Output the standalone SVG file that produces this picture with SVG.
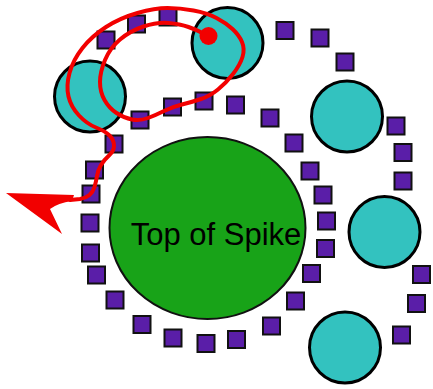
<svg xmlns="http://www.w3.org/2000/svg" width="433" height="389" viewBox="0 0 433 389">
<style>
.sq{fill:#5a1ea8;stroke:#111;stroke-width:2}
.cy{fill:#33c2bf;stroke:#000;stroke-width:3}
.sp{fill:#18a318;stroke:#111;stroke-width:2}
.lbl{font-family:"Liberation Sans",Arial,sans-serif;font-size:31px;fill:#000;text-anchor:middle}
.rd{fill:none;stroke:#f20000;stroke-width:4;stroke-linecap:round;stroke-linejoin:round}
</style>
<rect width="433" height="389" fill="#fff"/>
<g id="spike">
<ellipse class="sp" cx="207.5" cy="228" rx="98" ry="91"/>
<text class="lbl" x="216" y="245">Top of Spike</text>
</g>
<g id="circles">
<circle id="c1" class="cy" cx="90" cy="96.5" r="35.5"/>
<circle id="c2" class="cy" cx="227.5" cy="43" r="35.5"/>
<circle id="c3" class="cy" cx="347" cy="116.5" r="35.5"/>
<circle id="c4" class="cy" cx="384.5" cy="232" r="35.5"/>
<circle id="c5" class="cy" cx="345" cy="347.5" r="35.5"/>
</g>
<g id="squares">
<rect class="sq" x="97.5" y="31.5" width="17" height="17"/>
<rect class="sq" x="128" y="15.5" width="17" height="17"/>
<rect class="sq" x="159.5" y="8.5" width="17" height="17"/>
<rect class="sq" x="276.5" y="22" width="17" height="17"/>
<rect class="sq" x="311.5" y="29.5" width="17" height="17"/>
<rect class="sq" x="336.5" y="53.5" width="17" height="17"/>
<rect class="sq" x="387.5" y="117.5" width="17" height="17"/>
<rect class="sq" x="394.5" y="144" width="17" height="17"/>
<rect class="sq" x="394.5" y="172.5" width="17" height="17"/>
<rect class="sq" x="413" y="266" width="17" height="17"/>
<rect class="sq" x="408" y="295" width="17" height="17"/>
<rect class="sq" x="393" y="326.5" width="17" height="17"/>
<rect class="sq" x="131.5" y="111.5" width="17" height="17"/>
<rect class="sq" x="164" y="98.5" width="17" height="17"/>
<rect class="sq" x="195.5" y="92.5" width="17" height="17"/>
<rect class="sq" x="227" y="96.5" width="17" height="17"/>
<rect class="sq" x="261.5" y="109.5" width="17" height="17"/>
<rect class="sq" x="285.5" y="134.5" width="17" height="17"/>
<rect class="sq" x="301.5" y="162.5" width="17" height="17"/>
<rect class="sq" x="314.5" y="186.5" width="17" height="17"/>
<rect class="sq" x="318" y="212.5" width="17" height="17"/>
<rect class="sq" x="317" y="240" width="17" height="17"/>
<rect class="sq" x="303" y="265" width="17" height="17"/>
<rect class="sq" x="287" y="292.5" width="17" height="17"/>
<rect class="sq" x="263" y="317.5" width="17" height="17"/>
<rect class="sq" x="228" y="331" width="17" height="17"/>
<rect class="sq" x="197.5" y="335" width="17" height="17"/>
<rect class="sq" x="164.5" y="329.5" width="17" height="17"/>
<rect class="sq" x="133.5" y="316" width="17" height="17"/>
<rect class="sq" x="106.5" y="291.5" width="17" height="17"/>
<rect class="sq" x="88" y="266.5" width="17" height="17"/>
<rect class="sq" x="82" y="244.5" width="17" height="17"/>
<rect class="sq" x="81.5" y="214.5" width="17" height="17"/>
<rect class="sq" x="82.5" y="185.5" width="17" height="17"/>
<rect class="sq" x="86" y="161.5" width="17" height="17"/>
<rect class="sq" x="105.5" y="135.5" width="17" height="17"/>
</g>
<g id="connectors">
<path class="rd" d="M208,36 L202.5,33 Q197,30 188.5,27 Q180,24 168.5,23 Q157,22 143.5,26.5 Q130,31 120,39.5 Q110,48 105,60 Q100,72 100,82 Q100,92 104.5,100 Q109,108 116.5,113 Q124,118 132,119.5 Q140,121 148,118 Q156,115 164,111 Q172,107 182,104.5 Q192,102 201,99 Q210,96 218,89.5 Q226,83 233,74 Q240,65 242.5,57 Q245,49 242,42 Q239,35 232.5,29 Q226,23 216.5,18 Q207,13 193.5,10.5 Q180,8 167.5,8 Q155,8 137.5,13 Q120,18 106,27 Q92,36 82.5,48 Q73,60 69.5,73 Q66,86 68.5,96.5 Q71,107 79,115.5 Q87,124 96,127.5 Q105,131 109.5,135.5 Q114,140 114,145.5 Q114,151 109,155.5 Q104,160 101,165 Q98,170 97,176 Q96,182 94.5,187 Q93,192 89.5,195 Q86,198 80,199 L70,200"/>
<circle cx="208.5" cy="36" r="9" fill="#f20000"/>
<path d="M6,193 L74,195 L72,201 Q58,203 50,209 L62,234 Z" fill="#f20000"/>
</g>
</svg>
